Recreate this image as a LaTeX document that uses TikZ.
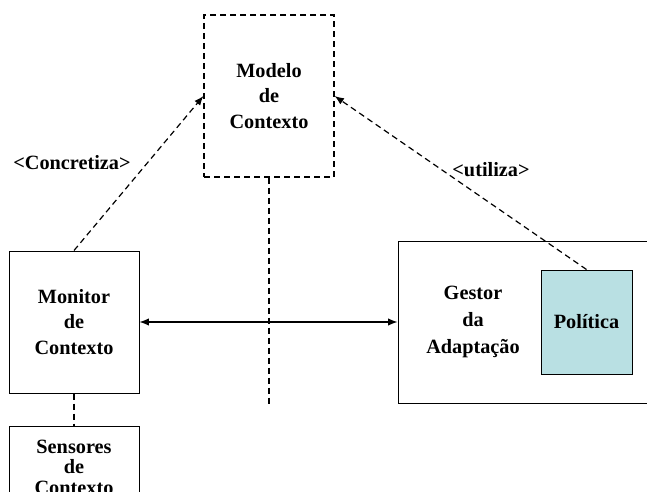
\documentclass[tikz,border=0pt]{standalone}
\usepackage{fontspec}
\setmainfont{Liberation Serif}
\usetikzlibrary{positioning}
\usetikzlibrary{arrows.meta}
\definecolor{politicafill}{HTML}{B9E0E3}
\tikzset{bloco/.style={draw=black, line width=0.75pt, inner sep=0pt, align=center,
  font=\fontsize{15.2}{19}\selectfont\bfseries},
% tracejado das ligacoes e do modelo
tracado/.style={line width=0.9pt, dash pattern=on 4.5pt off 3pt},
seta/.style={-{Latex[length=7pt,width=5.5pt]}},
rotulo/.style={font=\fontsize{15.2}{19}\selectfont\bfseries, inner sep=0pt}}

\begin{document}
\begin{tikzpicture}[x=0.75pt,y=-0.75pt]
\useasboundingbox (0,0) rectangle (647,492);
\clip (0,0) rectangle (647,492);

% caixas
\node[bloco, tracado, minimum width=97.5pt, minimum height=121.5pt] (modelo) at (269,96) {Modelo\\de\\Contexto};
\node[bloco, minimum width=97.5pt, minimum height=106.5pt] (monitor) at (74,322) {Monitor\\de\\Contexto};
\node[bloco, anchor=north, minimum width=97.5pt, inner ysep=10pt,
  font=\fontsize{15.2}{15.5}\selectfont\bfseries] (sensores) at (74,426) {Sensores\\de\\Contexto\\[8pt]};
\node[bloco, minimum width=192.75pt, minimum height=121.5pt] (gestor) at (526.5,322) {};
\node[rotulo, align=center, font=\fontsize{15.2}{20}\selectfont\bfseries] (gestortxt) at (473,322) {Gestor\\da\\Adaptação};
\node[bloco, fill=politicafill, minimum width=68.25pt, minimum height=78pt] (politica) at (586.5,322) {Política};

% ligacoes
\coordinate (fim) at (269,405);
\draw[tracado] (modelo.south) -- (fim);
\draw[tracado] (monitor.south) -- (sensores.north);
\draw[tracado, seta] (monitor.north) -- (modelo.west);
\draw[tracado, seta] (politica.north) -- (modelo.east);
\draw[line width=0.9pt, {Latex[length=7pt,width=5.5pt]}-{Latex[length=7pt,width=5.5pt]}] (monitor.east) -- (gestor.west);

%labels
\node[rotulo] (concretiza) at (72,163) {<Concretiza>};
\node[rotulo] (utiliza) at (491,170) {<utiliza>};

\end{tikzpicture}
\end{document}
